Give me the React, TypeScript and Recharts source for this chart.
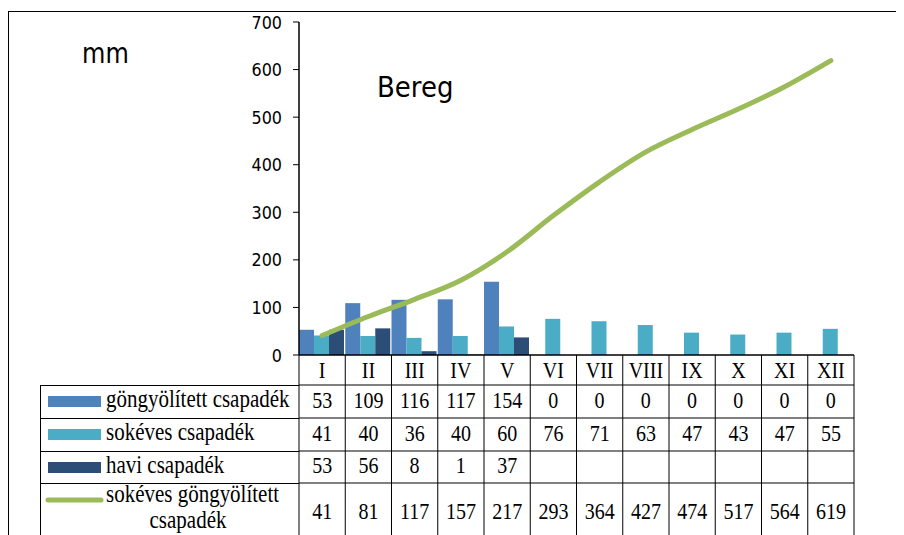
import React from "react";
import { ComposedChart, Bar, Line, XAxis, YAxis, Legend } from "recharts";

const months = ["I", "II", "III", "IV", "V", "VI", "VII", "VIII", "IX", "X", "XI", "XII"];
const cumulative = [53, 109, 116, 117, 154, 0, 0, 0, 0, 0, 0, 0];
const longTerm = [41, 40, 36, 40, 60, 76, 71, 63, 47, 43, 47, 55];
const monthly: (number | null)[] = [53, 56, 8, 1, 37, null, null, null, null, null, null, null];
const longTermCumulative = [41, 81, 117, 157, 217, 293, 364, 427, 474, 517, 564, 619];
const yTicks = [0, 100, 200, 300, 400, 500, 600, 700];

const series = [
  { key: "cum", name: "göngyölített csapadék", color: "#4F81BD", kind: "bar" },
  { key: "lt", name: "sokéves csapadék", color: "#4BACC6", kind: "bar" },
  { key: "mon", name: "havi csapadék", color: "#2C4D75", kind: "bar" },
  { key: "ltc", name: "sokéves göngyölített csapadék", color: "#9BBB59", kind: "line" },
];

const data = months.map((m, i) => ({
  m,
  cum: cumulative[i],
  lt: longTerm[i],
  mon: monthly[i],
  ltc: longTermCumulative[i],
}));

const W = 896;
const H = 527;
const PLOT_LEFT = 291;
const PLOT_RIGHT = 846;
const PLOT_BOTTOM = 347;
const COL_W = (PLOT_RIGHT - PLOT_LEFT) / months.length;
const SERIF = "'Liberation Serif', 'Times New Roman', serif";
const SANS = "'DejaVu Sans', Verdana, sans-serif";
const STRETCH = 1.15; // the original's glyphs look a bit taller than wide

// row separators / text baselines below the x axis
const ROW_LINES = [30, 63, 96, 128];
const ROW_TEXT = [23, 53, 86, 118, 164];

function TableTick(props: any) {
  const { x, y, payload } = props;
  const i = payload.index;
  const left = x - COL_W / 2;
  const right = x + COL_W / 2;
  const cells = [months[i], cumulative[i], longTerm[i], monthly[i], longTermCumulative[i]];
  return (
    <g>
      <line x1={left} x2={left} y1={y} y2={H} stroke="#000" strokeWidth={1} />
      {i === months.length - 1 && <line x1={right} x2={right} y1={y} y2={H} stroke="#000" strokeWidth={1} />}
      {ROW_LINES.map((r) => (
        <line key={r} x1={left} x2={right} y1={y + r} y2={y + r} stroke="#000" strokeWidth={1} />
      ))}
      {cells.map((c, k) =>
        c === null ? null : (
          <text
            key={k}
            transform={`translate(${x},${y + ROW_TEXT[k]}) scale(1,${STRETCH})`}
            textAnchor="middle"
            fontFamily={SERIF}
            fontSize={20}
            fill="#000"
          >
            {c}
          </text>
        )
      )}
    </g>
  );
}

function YTick(props: any) {
  const { x, y, payload } = props;
  return (
    <text
      transform={`translate(${x},${y}) scale(1,${STRETCH})`}
      dy="0.36em"
      textAnchor="end"
      fontFamily={SANS}
      fontSize={16}
      fill="#000"
    >
      {payload.value}
    </text>
  );
}

const LEG_W = PLOT_LEFT - 32;
const LEG_H = H - 377;
const legRowTops = [0, 33, 66, 98];

function TableLegend() {
  return (
    <svg width={LEG_W} height={LEG_H} style={{ display: "block" }}>
      <line x1={0.5} x2={0.5} y1={0} y2={LEG_H} stroke="#000" strokeWidth={1} />
      {legRowTops.map((t) => (
        <line key={t} x1={0} x2={LEG_W} y1={t + 0.5} y2={t + 0.5} stroke="#000" strokeWidth={1} />
      ))}
      {series.map((s, k) => {
        const t = legRowTops[k];
        if (s.kind === "bar") {
          return (
            <g key={s.key}>
              <rect x={8} y={t + 11} width={53} height={11} fill={s.color} />
              <text transform={`translate(66,${t + 22}) scale(1,${STRETCH})`} fontFamily={SERIF} fontSize={21} fill="#000">
                {s.name}
              </text>
            </g>
          );
        }
        return (
          <g key={s.key}>
            <line x1={8} x2={61} y1={t + 17} y2={t + 17} stroke={s.color} strokeWidth={5} strokeLinecap="round" />
            <text transform={`translate(66,${t + 19}) scale(1,${STRETCH})`} fontFamily={SERIF} fontSize={21} fill="#000">
              sokéves göngyölített
            </text>
            <text transform={`translate(148,${t + 45}) scale(1,${STRETCH})`} textAnchor="middle" fontFamily={SERIF} fontSize={21} fill="#000">
              csapadék
            </text>
          </g>
        );
      })}
    </svg>
  );
}

export default function App() {
  return (
    <div style={{ position: "relative", width: W, height: H }}>
      <div
        style={{
          position: "absolute",
          left: 0,
          top: 3,
          width: W,
          height: H - 3,
          boxSizing: "border-box",
          borderTop: "1.5px solid #000",
          borderLeft: "1.5px solid #000",
        }}
      />
      <ComposedChart
        width={W}
        height={H}
        data={data}
        margin={{ top: 14, right: 50, bottom: 0, left: 0 }}
        barCategoryGap={0}
        barGap={0}
      >
        <XAxis
          dataKey="m"
          height={H - PLOT_BOTTOM}
          interval={0}
          tickLine={false}
          tickSize={0}
          tickMargin={0}
          axisLine={{ stroke: "#000", strokeWidth: 1.5 }}
          tick={<TableTick />}
        />
        <XAxis xAxisId="top" dataKey="m" orientation="top" height={0} tick={false} tickLine={false} axisLine={{ stroke: "#888", strokeWidth: 2 }} />
        <YAxis
          width={PLOT_LEFT}
          domain={[0, 700]}
          ticks={yTicks}
          interval={0}
          tickSize={6}
          tickMargin={11}
          axisLine={{ stroke: "#000", strokeWidth: 1.5 }}
          tickLine={{ stroke: "#000" }}
          tick={<YTick />}
        />
        <YAxis yAxisId="right" orientation="right" width={0} domain={[0, 700]} tick={false} tickLine={false} axisLine={{ stroke: "#888", strokeWidth: 2 }} />
        <Legend
          layout="horizontal"
          verticalAlign="middle"
          align="center"
          content={<TableLegend />}
          wrapperStyle={{ left: 32, top: 377, width: LEG_W, height: LEG_H }}
        />
        <Bar dataKey="cum" name={series[0].name} fill={series[0].color} isAnimationActive={false} />
        <Bar dataKey="lt" name={series[1].name} fill={series[1].color} isAnimationActive={false} />
        <Bar dataKey="mon" name={series[2].name} fill={series[2].color} isAnimationActive={false} />
        <Line
          dataKey="ltc"
          name={series[3].name}
          type="monotone"
          stroke={series[3].color}
          strokeWidth={5}
          strokeLinecap="round"
          dot={false}
          isAnimationActive={false}
        />
      </ComposedChart>
      <svg width={W} height={H} style={{ position: "absolute", left: 0, top: 0, pointerEvents: "none" }}>
        <text transform={`translate(74,55) scale(1,${STRETCH})`} fontFamily={SANS} fontSize={24} fill="#000">mm</text>
        <text transform={`translate(369,89) scale(1,1.1)`} fontFamily={SANS} fontSize={26} fill="#000">Bereg</text>
      </svg>
    </div>
  );
}
